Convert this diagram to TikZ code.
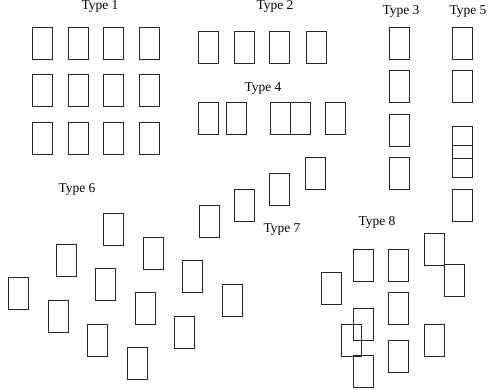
\documentclass[tikz,border=0pt]{standalone}
\usepackage{fontspec}
\setmainfont{Liberation Serif}
\begin{document}
\begin{tikzpicture}[x=1pt,y=-1pt,
  cell/.style={draw=black!85,line width=0.9pt,anchor=north west,inner sep=0pt,
    minimum width=20pt,minimum height=32pt},
  lbl/.style={anchor=base,inner sep=0pt,font=\fontsize{13.5}{14}\selectfont}]
\useasboundingbox (0,0) rectangle (489,390);
% labels
\node[lbl] (t1) at (100,10) {Type 1};
\node[lbl] (t2) at (275,10) {Type 2};
\node[lbl] (t3) at (401,15) {Type 3};
\node[lbl] (t5) at (468,15) {Type 5};
\node[lbl] (t4) at (263,91.5) {Type 4};
\node[lbl] (t6) at (77,192.5) {Type 6};
\node[lbl] (t7) at (282,232.5) {Type 7};
\node[lbl] (t8) at (377,225) {Type 8};
% Type 1: regular grid
\foreach \r/\y in {1/26.7,2/74,3/121.7}
  \foreach \c/\x in {1/32,2/67.7,3/103.3,4/139}
    \node[cell] (a\r\c) at (\x,\y) {};
% Type 2: single row
\foreach \c/\x in {1/198.3,2/234.3,3/269.3,4/305.7}
  \node[cell] (b\c) at (\x,31) {};
% Type 4: row with touching cells
\foreach \c/\x in {1/198.3,2/226,3/270,4/289.7,5/325.3}
  \node[cell] (d\c) at (\x,102.3) {};
% Type 7: diagonal
\foreach \c/\x/\y in {1/199/205,2/234.3/189.3,3/269.3/173.3,4/305.3/157.3}
  \node[cell] (g\c) at (\x,\y) {};
% Type 3: column
\foreach \c/\y in {1/26.7,2/70,3/114,4/157.3}
  \node[cell] (c\c) at (388.7,\y) {};
% Type 5: column with overlap
\foreach \c/\y in {1/26.7,2/70,3/126,4/145.3,5/189.3}
  \node[cell] (e\c) at (452,\y) {};
% Type 6: scattered lattice
\foreach \c/\x/\y in {1/8.3/276.7,2/55.7/244.3,3/103.3/213,4/48.3/300,
    5/95.3/268.3,6/143/236.7,7/87.3/323.7,8/135/292.3,9/182.3/260.3,
    10/127/347.3,11/174.3/315.7,12/222/284.3}
  \node[cell] (f\c) at (\x,\y) {};
% Type 8: irregular cluster
\foreach \c/\x/\y in {1/353/248.7,2/388.3/248.7,3/424.3/232.7,4/443.7/264.3,
    5/321.3/272.3,6/388.3/292.3,7/353/308,8/341/323.7,9/353/355.3,
    10/388.3/339.7,11/424.3/323.7}
  \node[cell] (h\c) at (\x,\y) {};
\end{tikzpicture}
\end{document}
